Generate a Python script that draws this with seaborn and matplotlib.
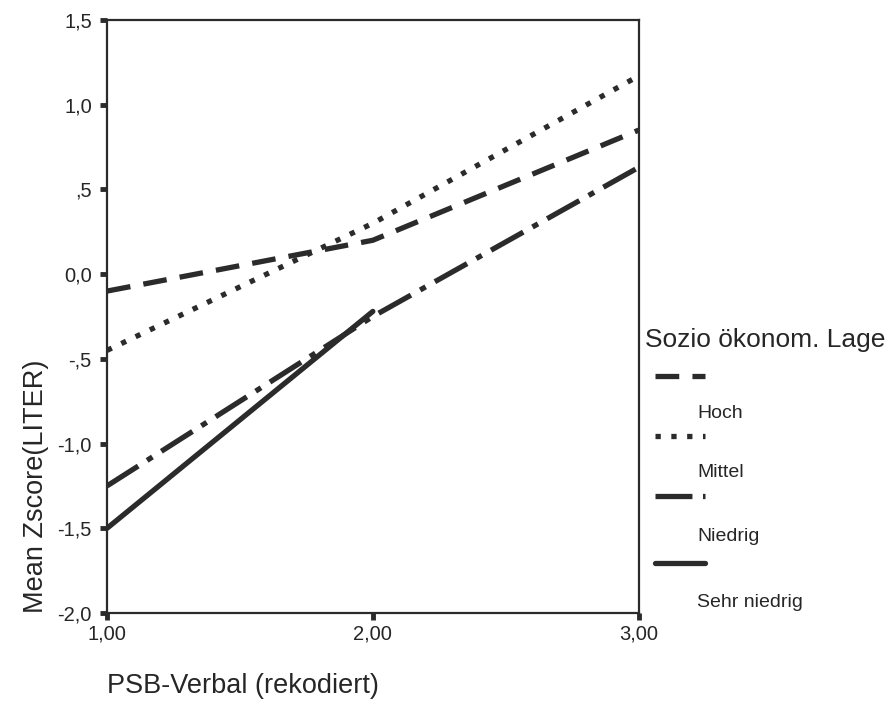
import pandas as pd
import matplotlib.pyplot as plt
import seaborn as sns
from matplotlib.lines import Line2D

# data
x_levels = [1.0, 2.0, 3.0]
hoch = [-0.10, 0.20, 0.85]
mittel = [-0.45, 0.30, 1.17]
niedrig = [-1.25, -0.25, 0.63]
sehr_niedrig = [-1.50, -0.22]
groups = ["Hoch", "Mittel", "Niedrig", "Sehr niedrig"]
y_ticks = [-2.0, -1.5, -1.0, -0.5, 0.0, 0.5, 1.0, 1.5]
y_ticklabels = ["-2,0", "-1,5", "-1,0", "-,5", "0,0", ",5", "1,0", "1,5"]
x_ticklabels = ["1,00", "2,00", "3,00"]

rows = []
for name, vals in zip(groups, [hoch, mittel, niedrig, sehr_niedrig]):
    for xv, yv in zip(x_levels, vals):
        rows.append({"PSB": xv, "Z": yv, "Lage": name})
df = pd.DataFrame(rows)

sns.set_style("white")
plt.rcParams["font.family"] = ["Liberation Sans", "DejaVu Sans"]

dash_styles = {
    "Hoch": (4.5, 2.5),
    "Mittel": (1.0, 2.0),
    "Niedrig": (7.0, 2.0, 1.2, 2.0),
    "Sehr niedrig": "",
}
lw = 3.8
ink = "#2b2b2b"

fig = plt.figure(figsize=(8.89, 7.15), dpi=100)
ax = fig.add_axes([0.1204, 0.1427, 0.598, 0.8293])

sns.lineplot(data=df, x="PSB", y="Z", style="Lage", style_order=groups,
             dashes=dash_styles, color=ink, linewidth=lw, legend=False, ax=ax)

ax.set_xlim(1, 3)
ax.set_ylim(-2.0, 1.5)
ax.set_xticks(x_levels)
ax.set_xticklabels(x_ticklabels, fontsize=14.5)
ax.set_yticks(y_ticks)
ax.set_yticklabels(y_ticklabels, fontsize=14.5)
ax.tick_params(axis="both", direction="out", length=5, width=3.5, color=ink,
               left=True, bottom=True, pad=3)
ax.tick_params(axis="y", pad=6)
for sp in ax.spines.values():
    sp.set_color(ink)
    sp.set_linewidth(1.6)

ax.set_xlabel("")
ax.set_ylabel("Mean Zscore(LITER)", fontsize=19.5, labelpad=6, loc="bottom")
fig.text(0.1204, 0.022, "PSB-Verbal (rekodiert)", fontsize=19.5, ha="left", va="bottom")

# SPSS-style legend: handle on one row, label below, indented
fig.text(0.726, 0.524, "Sozio ökonom. Lage", fontsize=19, ha="left", va="center")
handle_y = [0.474, 0.390, 0.306, 0.213]
label_y = [0.422, 0.339, 0.250, 0.158]
for name, hy, ly in zip(groups, handle_y, label_y):
    ds = dash_styles[name]
    ln = Line2D([0.737, 0.793], [hy, hy], transform=fig.transFigure,
                color=ink, linewidth=lw)
    if ds:
        ln.set_dashes(ds)
    fig.lines.append(ln)
    fig.text(0.784, ly, name, fontsize=14, ha="left", va="center")

fig.savefig("out.png", dpi=100)
